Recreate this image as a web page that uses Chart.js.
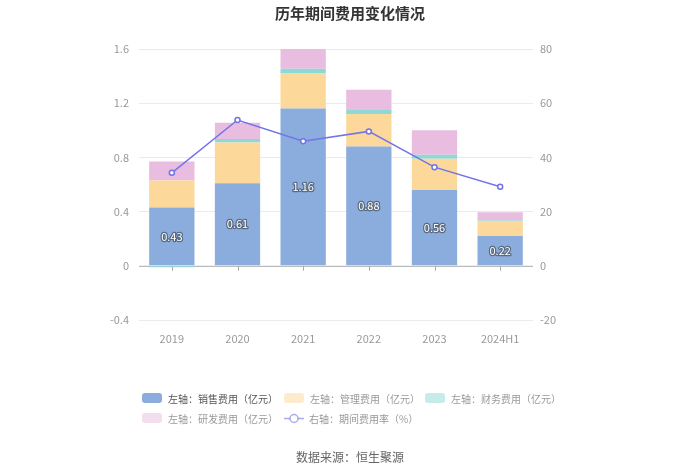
<!DOCTYPE html>
<html>
<head>
<meta charset="utf-8">
<script src="https://cdn.jsdelivr.net/npm/chart.js@4.4.0/dist/chart.umd.min.js"></script>
<style>
  html, body { margin: 0; padding: 0; background: #fff; }
  body { font-family: "Noto Sans CJK SC", sans-serif; }
  .wrap { position: relative; width: 700px; height: 473px; }
  .title { position: absolute; top: 2px; left: 0; width: 700px; text-align: center; font-size: 15px; font-weight: bold; color: #333; }
  .source { position: absolute; top: 448px; left: 0; width: 700px; text-align: center; font-size: 12px; color: #666; }
  .legend-item { position: absolute; height: 14px; display: flex; align-items: center; font-size: 10px; color: #999; white-space: nowrap; }
  .legend-item .box { width: 20px; height: 10px; border-radius: 3px; margin-right: 6px; }
  .legend-item canvas { margin-right: 5px; }
  .legend-item.faded .box { opacity: 0.5; }
</style>
</head>
<body>
<div class="wrap">
  <canvas id="mainChart" width="700" height="473"></canvas>
  <div class="title">历年期间费用变化情况</div>
  <div id="legend"></div>
  <div class="source">数据来源：恒生聚源</div>
</div>
<script>
const years = ['2019', '2020', '2021', '2022', '2023', '2024H1'];
const sales = [0.43, 0.61, 1.16, 0.88, 0.56, 0.22];
const admin = [0.20, 0.30, 0.26, 0.24, 0.23, 0.11];
const finance = [-0.01, 0.025, 0.035, 0.03, 0.03, 0.005];
const rnd = [0.14, 0.12, 0.145, 0.15, 0.18, 0.06];
const expenseRate = [34.3, 53.8, 46.0, 49.6, 36.4, 29.2];

const seriesNames = ['左轴：销售费用（亿元）', '左轴：管理费用（亿元）', '左轴：财务费用（亿元）', '左轴：研发费用（亿元）', '右轴：期间费用率（%）'];
const barColors = ['#8badde', '#fdd89b', '#8dd9d6', '#e8bddf'];
const lineColor = '#7274e8';

const font = '"Noto Sans CJK SC", sans-serif';

// zero line + small ticks under it
const zeroAxisPlugin = {
  id: 'zeroAxis',
  beforeDatasetsDraw(chart) {
    const { ctx, chartArea, scales } = chart;
    const y0 = scales.y.getPixelForValue(0);
    ctx.save();
    ctx.strokeStyle = '#aaa';
    ctx.lineWidth = 1;
    ctx.beginPath();
    ctx.moveTo(chartArea.left, y0 + 0.5);
    ctx.lineTo(chartArea.right, y0 + 0.5);
    scales.x.ticks.forEach((t, i) => {
      const x = Math.round(scales.x.getPixelForTick(i)) + 0.5;
      ctx.moveTo(x, y0);
      ctx.lineTo(x, y0 + 5);
    });
    ctx.stroke();
    ctx.restore();
  }
};

// value labels in the blue bars
const barLabelPlugin = {
  id: 'barLabels',
  afterDatasetsDraw(chart) {
    const { ctx } = chart;
    const meta = chart.getDatasetMeta(0);
    ctx.save();
    ctx.font = '11px ' + font;
    ctx.textAlign = 'center';
    ctx.textBaseline = 'middle';
    ctx.lineJoin = 'round';
    meta.data.forEach((el, i) => {
      const y = (el.y + el.base) / 2;
      const txt = sales[i].toFixed(2);
      ctx.strokeStyle = '#5a6a80';
      ctx.lineWidth = 2.5;
      ctx.strokeText(txt, el.x, y);
      ctx.fillStyle = '#fff';
      ctx.fillText(txt, el.x, y);
    });
    ctx.restore();
  }
};

const barSeries = [sales, admin, finance, rnd];
const datasets = barSeries.map((d, i) => ({
  type: 'bar',
  label: seriesNames[i],
  data: d,
  backgroundColor: barColors[i],
  yAxisID: 'y',
  stack: 'cost',
  order: 1,
  categoryPercentage: 1,
  barPercentage: 0.69
}));
datasets.push({
  type: 'line',
  label: seriesNames[4],
  data: expenseRate,
  yAxisID: 'y1',
  borderColor: lineColor,
  borderWidth: 1.5,
  pointRadius: 2.5,
  pointBorderWidth: 1.5,
  pointBackgroundColor: '#fff',
  pointBorderColor: lineColor,
  tension: 0,
  order: 0
});

new Chart(document.getElementById('mainChart').getContext('2d'), {
  data: { labels: years, datasets: datasets },
  options: {
    responsive: false,
    animation: false,
    layout: { padding: { top: 49, left: 0, right: 0, bottom: 0 } },
    plugins: { legend: { display: false }, tooltip: { enabled: false } },
    scales: {
      x: {
        stacked: true,
        grid: { display: false },
        border: { display: false },
        ticks: { color: '#999', font: { family: font, size: 11 }, padding: 4 },
        afterFit(scale) { scale.height = 153; }
      },
      y: {
        stacked: true,
        position: 'left',
        min: -0.4,
        max: 1.6,
        grid: {
          drawTicks: false,
          color: ctx => (ctx.tick && ctx.tick.value === 0) ? 'rgba(0,0,0,0)' : '#ebebeb'
        },
        border: { display: false },
        ticks: {
          stepSize: 0.4,
          padding: 10,
          color: '#999',
          font: { family: font, size: 11 },
          callback: v => (Math.round(v * 10) / 10).toString()
        },
        afterFit(scale) { scale.width = 139; }
      },
      y1: {
        position: 'right',
        min: -20,
        max: 80,
        grid: { display: false, drawTicks: false },
        border: { display: false },
        ticks: { stepSize: 20, padding: 7, color: '#999', font: { family: font, size: 11 } },
        afterFit(scale) { scale.width = 167; }
      }
    }
  },
  plugins: [zeroAxisPlugin, barLabelPlugin]
});

// legend
const legendPos = [[142, 391], [284, 391], [425, 391], [142, 411], [284, 411]];
const legendEl = document.getElementById('legend');
seriesNames.forEach((name, i) => {
  const item = document.createElement('div');
  item.className = 'legend-item' + (i > 0 ? ' faded' : '');
  item.style.left = legendPos[i][0] + 'px';
  item.style.top = legendPos[i][1] + 'px';
  if (i === 0) item.style.color = '#555';
  if (i < 4) {
    const box = document.createElement('span');
    box.className = 'box';
    box.style.background = barColors[i];
    item.appendChild(box);
  } else {
    const c = document.createElement('canvas');
    c.width = 20; c.height = 14;
    const g = c.getContext('2d');
    g.strokeStyle = lineColor;
    g.globalAlpha = 0.6;
    g.lineWidth = 1.5;
    g.beginPath(); g.moveTo(0, 7.5); g.lineTo(20, 7.5); g.stroke();
    g.globalAlpha = 1;
    g.fillStyle = '#fff';
    g.beginPath(); g.arc(10, 7.5, 4, 0, Math.PI * 2); g.fill();
    g.globalAlpha = 0.6;
    g.stroke();
    item.appendChild(c);
  }
  const label = document.createElement('span');
  label.textContent = name;
  item.appendChild(label);
  legendEl.appendChild(item);
});
</script>
</body>
</html>
